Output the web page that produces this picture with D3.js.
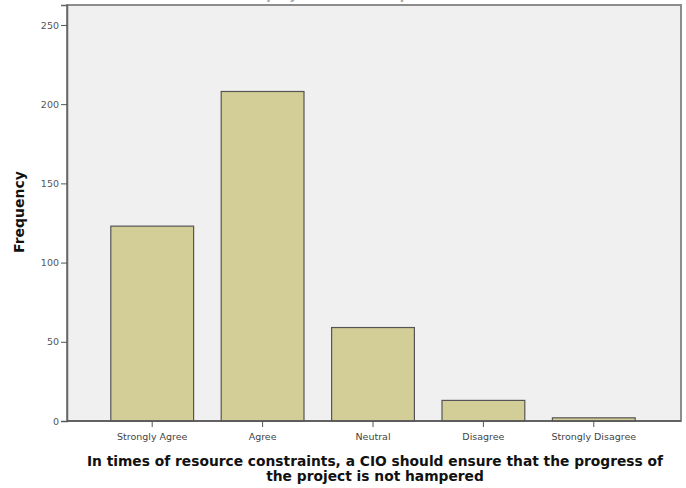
<!DOCTYPE html>
<html>
<head>
<meta charset="utf-8">
<script src="https://cdn.jsdelivr.net/npm/d3@7"></script>
<style>
  body { margin: 0; background: #fff; }
  svg { display: block; font-family: "DejaVu Sans", Verdana, sans-serif; }
</style>
</head>
<body>
<div id="chart"></div>
<script>
let width = 686;
let height = 488;

// data
const categories = ["Strongly Agree", "Agree", "Neutral", "Disagree", "Strongly Disagree"];
const frequency = [123, 208, 59, 13, 2];
const yTicks = [0, 50, 100, 150, 200, 250];

let plot = { left: 67, right: 681, top: 5, bottom: 421 };

let svg = d3
  .select("#chart")
  .append("svg")
  .attr("width", width)
  .attr("height", height);

let x = d3
  .scaleBand()
  .domain(categories)
  .range([97, 649])
  .paddingInner(0.25)
  .paddingOuter(0.125);

let y = d3.scaleLinear().domain([0, 262.6]).range([plot.bottom, plot.top]);

// title, cut off at the very top in the original
svg
  .append("text")
  .attr("x", 340)
  .attr("y", -1)
  .attr("text-anchor", "middle")
  .style("font-size", "13px")
  .style("font-weight", "bold")
  .style("fill", "#aaa")
  .text("the project is not hampered");

// plot background
svg
  .append("rect")
  .attr("x", plot.left)
  .attr("y", plot.top)
  .attr("width", plot.right - plot.left)
  .attr("height", plot.bottom - plot.top)
  .attr("fill", "#f0f0f0")
  .attr("stroke", "#8c8c8c")
  .attr("stroke-width", 2);

// bars
svg
  .append("g")
  .selectAll("rect")
  .data(categories)
  .enter()
  .append("rect")
  .attr("x", (d) => x(d))
  .attr("y", (d, i) => y(frequency[i]))
  .attr("width", x.bandwidth())
  .attr("height", (d, i) => y(0) - y(frequency[i]))
  .attr("fill", "#d3ce97")
  .attr("stroke", "#555")
  .attr("stroke-width", 1.2);

// y axis
let yAxis = svg
  .append("g")
  .attr("transform", "translate(" + plot.left + ",0)")
  .call(d3.axisLeft(y).tickValues(yTicks).tickSize(6).tickPadding(2));
yAxis.select(".domain").attr("stroke", "#666").attr("stroke-width", 1.5);
yAxis.selectAll(".tick line").attr("stroke", "#555");
yAxis
  .selectAll(".tick text")
  .style("font-size", "9.5px")
  .style("fill", "#555")
  .style("font-family", "DejaVu Sans, Verdana, sans-serif");

// x axis
let xAxis = svg
  .append("g")
  .attr("transform", "translate(0," + plot.bottom + ")")
  .call(d3.axisBottom(x).tickSize(6).tickPadding(6).tickSizeOuter(0));
xAxis.select(".domain").attr("stroke", "#555").attr("stroke-width", 1.5)
  .attr("d", "M" + plot.left + ",0H" + plot.right);
xAxis.selectAll(".tick line").attr("stroke", "#555");
xAxis
  .selectAll(".tick text")
  .style("font-size", "9.5px")
  .style("fill", "#444")
  .style("font-family", "DejaVu Sans, Verdana, sans-serif");

// axis titles
svg
  .append("text")
  .attr("transform", "translate(24,212) rotate(-90)")
  .attr("text-anchor", "middle")
  .style("font-size", "14px")
  .style("font-weight", "bold")
  .style("fill", "#111")
  .text("Frequency");

let xTitle = svg
  .append("text")
  .attr("text-anchor", "middle")
  .style("font-size", "13.8px")
  .style("font-weight", "bold")
  .style("fill", "#111");
xTitle
  .append("tspan")
  .attr("x", 375)
  .attr("y", 466)
  .text("In times of resource constraints, a CIO should ensure that the progress of");
xTitle
  .append("tspan")
  .attr("x", 375)
  .attr("y", 481)
  .text("the project is not hampered");
</script>
</body>
</html>
